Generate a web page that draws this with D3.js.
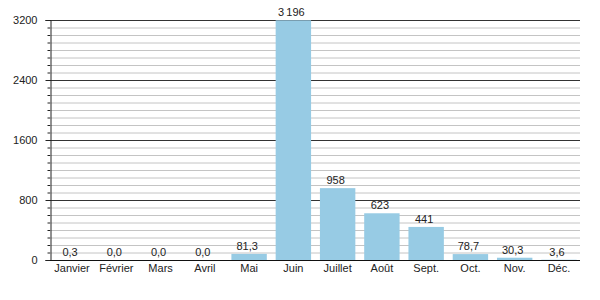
<!DOCTYPE html>
<html>
<head>
<meta charset="utf-8">
<script src="https://cdn.jsdelivr.net/npm/d3@7"></script>
<style>
  body { margin: 0; background: #fff; }
  text { font-family: "Liberation Sans", Arial, sans-serif; fill: #222; }
</style>
</head>
<body>
<div class="chart"></div>
<script>
const months = ["Janvier", "Février", "Mars", "Avril", "Mai", "Juin", "Juillet", "Août", "Sept.", "Oct.", "Nov.", "Déc."];
const values = [0.3, 0.0, 0.0, 0.0, 81.3, 3196, 958, 623, 441, 78.7, 30.3, 3.6];
const yTicks = [0, 800, 1600, 2400, 3200];

let width = 600, height = 300;
let plot = { left: 50, right: 580, top: 20, bottom: 260 };

const fr = d3.formatLocale({ decimal: ",", thousands: "\u2009", grouping: [3], currency: ["", " €"] });
const fmtSmall = fr.format(".1f");
const fmtBig = fr.format(",d");
const fmt = v => v < 100 ? fmtSmall(v) : fmtBig(v);

let svg = d3.select(".chart").append("svg")
  .attr("width", width)
  .attr("height", height);

let y = d3.scaleLinear().domain([0, 3200]).range([plot.bottom, plot.top]);
let x = d3.scaleBand().domain(months).range([45.5, 585.5]).padding(0.2);

// minor grid every 100
const minor = d3.range(100, 3200, 100).filter(v => v % 800 !== 0);
svg.append("g").selectAll("line").data(minor).join("line")
  .attr("x1", plot.left).attr("x2", plot.right)
  .attr("y1", d => y(d) + 0.5).attr("y2", d => y(d) + 0.5)
  .attr("stroke", "#c4c4c4").attr("stroke-width", 1);

svg.append("g").selectAll("line").data(minor).join("line")
  .attr("x1", plot.left - 2.5).attr("x2", plot.left)
  .attr("y1", d => y(d) + 0.5).attr("y2", d => y(d) + 0.5)
  .attr("stroke", "#222");

// major grid
svg.append("g").selectAll("line").data(yTicks.filter(d => d > 0)).join("line")
  .attr("x1", plot.left).attr("x2", plot.right)
  .attr("y1", d => y(d) + 0.5).attr("y2", d => y(d) + 0.5)
  .attr("stroke", "#333").attr("stroke-width", 1);

// bars
svg.append("g").selectAll("rect").data(values).join("rect")
  .attr("x", (d, i) => x(months[i]))
  .attr("width", x.bandwidth())
  .attr("y", d => y(d))
  .attr("height", d => plot.bottom - y(d))
  .attr("fill", "#97cbe4");

// y axis
const yAxis = svg.append("g")
  .attr("transform", `translate(${plot.left + 0.5},0)`)
  .call(d3.axisLeft(y).tickValues(yTicks).tickSize(5).tickPadding(8).tickFormat(d3.format("d")));
yAxis.select(".domain").attr("stroke", "#222");
yAxis.selectAll(".tick line").attr("stroke", "#222");
yAxis.selectAll("text").attr("font-size", 11).attr("fill", "#222");

// x axis
const xAxis = svg.append("g")
  .attr("transform", `translate(0,${plot.bottom + 0.5})`)
  .call(d3.axisBottom(x).tickSize(0).tickPadding(4));
xAxis.select(".domain").attr("d", `M${plot.left},0H${plot.right}`).attr("stroke", "#111");
xAxis.selectAll("text").attr("font-size", 11).attr("fill", "#222");

// value labels
svg.append("g").selectAll("text").data(values).join("text")
  .attr("x", (d, i) => x(months[i]) + x.bandwidth() / 2 - 2)
  .attr("y", d => y(d) - 4)
  .attr("text-anchor", "middle")
  .attr("font-size", 11)
  .text(d => fmt(d));
</script>
</body>
</html>
